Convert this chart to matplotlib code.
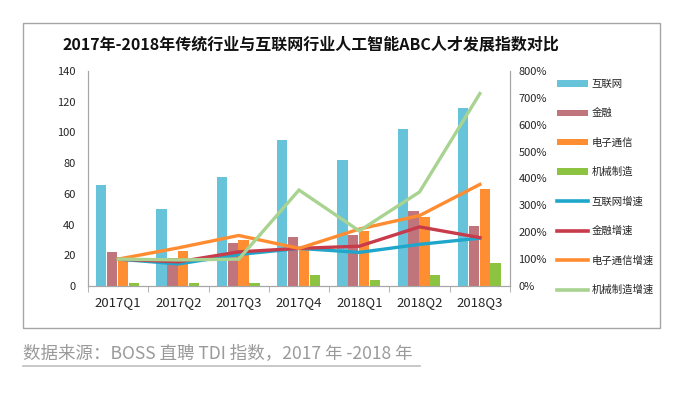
import matplotlib
matplotlib.use("Agg")
import matplotlib.pyplot as plt
from matplotlib.patches import Rectangle, Patch
from matplotlib.lines import Line2D
import numpy as np

plt.rcParams['font.family'] = ['Noto Sans CJK SC', 'DejaVu Sans']

quarters = ["2017Q1", "2017Q2", "2017Q3", "2017Q4", "2018Q1", "2018Q2", "2018Q3"]

# talent index per industry (left axis)
internet = [66, 50, 71, 95, 82, 102, 116]
finance = [22, 18, 28, 32, 33, 49, 39]
telecom = [18, 23, 30, 24, 36, 45, 63]
machinery = [2, 2, 2, 7, 4, 7, 15]

# growth relative to 2017Q1 (right axis, %)
internet_growth = [100, 82, 117, 140, 125, 155, 178]
finance_growth = [100, 90, 127, 140, 148, 220, 180]
telecom_growth = [100, 142, 188, 140, 212, 262, 378]
machinery_growth = [100, 97, 100, 357, 205, 350, 716]

bar_names = ["互联网", "金融", "电子通信", "机械制造"]
line_names = ["互联网增速", "金融增速", "电子通信增速", "机械制造增速"]
bar_colors = ["#67C3DA", "#C0757C", "#FF8E33", "#8CC442"]
line_colors = ["#1FA6CB", "#C83B4B", "#FF8C30", "#A8D390"]

fig = plt.figure(figsize=(6.81, 3.99), dpi=100)

# outer frame
fig.patches.append(Rectangle((23 / 681, 1 - 328 / 399), 637 / 681, 305 / 399,
                             transform=fig.transFigure, fill=False,
                             edgecolor="#A6A6A6", linewidth=1.0))

ax = fig.add_axes([88 / 681, 1 - 286 / 399, 422 / 681, 215 / 399])
ax2 = ax.twinx()

x = np.arange(len(quarters))
w = 0.17
offsets = [-0.28, -0.10, 0.08, 0.26]
for vals, off, col, name in zip([internet, finance, telecom, machinery], offsets, bar_colors, bar_names):
    ax.bar(x + off, vals, width=w, color=col, label=name, zorder=2)

for vals, col, name in zip([internet_growth, finance_growth, telecom_growth, machinery_growth],
                           line_colors, line_names):
    ax2.plot(x, vals, color=col, linewidth=2.4, label=name, solid_joinstyle="miter", zorder=3)

ax.set_xlim(-0.5, len(quarters) - 0.5)
ax.set_ylim(0, 140)
ax.set_yticks(range(0, 141, 20))
ax2.set_ylim(0, 800)
ax2.set_yticks(range(0, 801, 100))
ax2.set_yticklabels([f"{v}%" for v in range(0, 801, 100)])

ax.set_xticks(x)
ax.set_xticklabels(quarters, fontsize=9.5, color="#262626")
ax.set_xticks(np.arange(-0.5, len(quarters), 1), minor=True)
ax.tick_params(axis="x", which="major", length=0, pad=7)
ax.tick_params(axis="x", which="minor", length=4, color="#A6A6A6", direction="out")
ax.tick_params(axis="y", length=0, labelsize=8, colors="#262626", pad=9)
ax2.tick_params(axis="y", length=0, labelsize=8, colors="#262626", pad=6)

for a in (ax, ax2):
    a.spines["top"].set_visible(False)
    for s in ("left", "right", "bottom"):
        a.spines[s].set_color("#A6A6A6")
ax2.set_zorder(ax.get_zorder() + 1)
ax2.patch.set_visible(False)

fig.text(311 / 681, 1 - 44 / 399, "2017年-2018年传统行业与互联网行业人工智能ABC人才发展指数对比",
         ha="center", va="center", fontsize=11.5, fontweight="bold", color="#111111")

handles = [Patch(facecolor=c, edgecolor="none") for c in bar_colors]
handles += [Line2D([0], [0], color=c, linewidth=2.6) for c in line_colors]
leg = fig.legend(handles, bar_names + line_names, loc="upper left",
                 bbox_to_anchor=(552 / 681, 1 - 74 / 399), frameon=False,
                 fontsize=7.5, handlelength=3.0, handleheight=0.55,
                 handletextpad=0.3, labelspacing=1.84, borderpad=0)
for t in leg.get_texts():
    t.set_color("#262626")

fig.text(23 / 681, 1 - 354 / 399, "数据来源：BOSS 直聘 TDI 指数，2017 年 -2018 年",
         ha="left", va="center", fontsize=12.6, color="#9A9A9A")
fig.add_artist(Line2D([23 / 681, 420 / 681], [1 - 366 / 399, 1 - 366 / 399],
                      transform=fig.transFigure, color="#BFBFBF", linewidth=1.2))

fig.savefig("out.png", dpi=100)
